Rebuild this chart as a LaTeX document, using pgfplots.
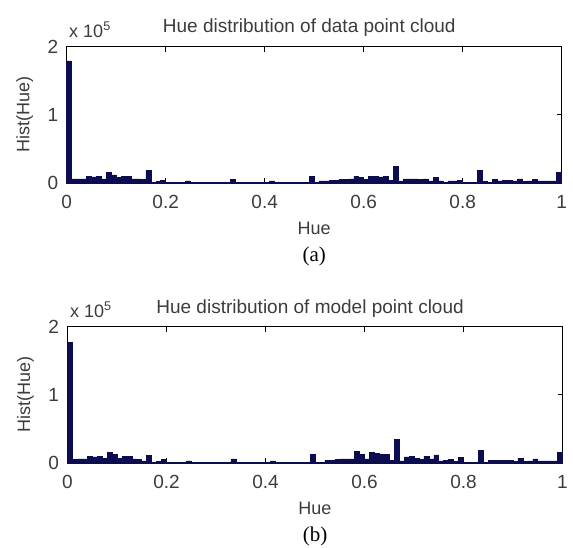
\documentclass[border=0pt]{standalone}
\usepackage{pgfplots}
\pgfplotsset{compat=1.18}
\usepackage{fontspec}
\setmainfont{Liberation Sans}
\newfontfamily\serifx{Liberation Serif}
\definecolor{barc}{RGB}{12,12,80}
\definecolor{txt}{RGB}{60,60,60}

\pgfplotstableread{
x y
0.00 1.79
0.01 0.06
0.02 0.06
0.03 0.06
0.04 0.10
0.05 0.09
0.06 0.10
0.07 0.06
0.08 0.15
0.09 0.12
0.10 0.08
0.11 0.10
0.12 0.10
0.13 0.06
0.14 0.06
0.15 0.05
0.16 0.19
0.17 0.01
0.18 0.02
0.19 0.04
0.20 0.01
0.21 0.01
0.22 0.01
0.23 0.01
0.24 0.03
0.25 0.01
0.26 0.01
0.27 0.01
0.28 0.01
0.29 0.01
0.30 0.01
0.31 0.01
0.32 0.01
0.33 0.05
0.34 0.01
0.35 0.01
0.36 0.01
0.37 0.01
0.38 0.01
0.39 0.01
0.40 0.01
0.41 0.03
0.42 0.01
0.43 0.01
0.44 0.01
0.45 0.01
0.46 0.01
0.47 0.01
0.48 0.01
0.49 0.10
0.50 0.01
0.51 0.03
0.52 0.03
0.53 0.04
0.54 0.04
0.55 0.05
0.56 0.05
0.57 0.06
0.58 0.10
0.59 0.08
0.60 0.05
0.61 0.10
0.62 0.10
0.63 0.09
0.64 0.10
0.65 0.04
0.66 0.24
0.67 0.03
0.68 0.06
0.69 0.06
0.70 0.06
0.71 0.05
0.72 0.06
0.73 0.03
0.74 0.08
0.75 0.03
0.76 0.01
0.77 0.03
0.78 0.03
0.79 0.04
0.80 0.01
0.81 0.01
0.82 0.01
0.83 0.18
0.84 0.02
0.85 0.01
0.86 0.05
0.87 0.03
0.88 0.04
0.89 0.04
0.90 0.03
0.91 0.06
0.92 0.02
0.93 0.03
0.94 0.05
0.95 0.03
0.96 0.03
0.97 0.03
0.98 0.03
0.99 0.16
1.00 0.16
}\dataA

\pgfplotstableread{
x y
0.00 1.77
0.01 0.05
0.02 0.06
0.03 0.06
0.04 0.10
0.05 0.09
0.06 0.10
0.07 0.07
0.08 0.15
0.09 0.13
0.10 0.07
0.11 0.10
0.12 0.10
0.13 0.06
0.14 0.05
0.15 0.03
0.16 0.11
0.17 0.01
0.18 0.02
0.19 0.05
0.20 0.01
0.21 0.01
0.22 0.01
0.23 0.01
0.24 0.03
0.25 0.01
0.26 0.01
0.27 0.01
0.28 0.01
0.29 0.01
0.30 0.01
0.31 0.01
0.32 0.01
0.33 0.06
0.34 0.01
0.35 0.01
0.36 0.01
0.37 0.01
0.38 0.01
0.39 0.01
0.40 0.01
0.41 0.03
0.42 0.01
0.43 0.01
0.44 0.01
0.45 0.01
0.46 0.01
0.47 0.01
0.48 0.01
0.49 0.13
0.50 0.01
0.51 0.01
0.52 0.04
0.53 0.04
0.54 0.05
0.55 0.06
0.56 0.06
0.57 0.06
0.58 0.17
0.59 0.13
0.60 0.06
0.61 0.15
0.62 0.14
0.63 0.13
0.64 0.13
0.65 0.04
0.66 0.35
0.67 0.03
0.68 0.09
0.69 0.10
0.70 0.07
0.71 0.05
0.72 0.10
0.73 0.06
0.74 0.12
0.75 0.03
0.76 0.04
0.77 0.05
0.78 0.02
0.79 0.08
0.80 0.01
0.81 0.01
0.82 0.01
0.83 0.18
0.84 0.01
0.85 0.04
0.86 0.04
0.87 0.04
0.88 0.04
0.89 0.04
0.90 0.02
0.91 0.07
0.92 0.02
0.93 0.03
0.94 0.06
0.95 0.03
0.96 0.03
0.97 0.03
0.98 0.03
0.99 0.16
1.00 0.16
}\dataB

\pgfplotsset{
  hueaxis/.style={
    scale only axis, width=495pt, height=136.5pt,
    xmin=0, xmax=1, ymin=0, ymax=2,
    xtick={0,0.2,0.4,0.6,0.8,1}, ytick={0,1,2},
    xticklabels={0,0.2,0.4,0.6,0.8,1},
    tick align=inside, major tick length=5pt,
    tick style={black, line width=0.6pt},
    axis line style={black, line width=0.9pt},
    /pgf/number format/assume math mode=true,
    tick label style={font=\fontsize{19}{21}\selectfont, text=txt},
    xticklabel style={anchor=base, yshift=-25pt},
    yticklabel style={anchor=east, xshift=-5pt},
    clip=false,
  }
}
\newcommand{\decor}[2]{%
\node[font=\fontsize{19}{21}\selectfont, text=txt, anchor=base] at (rel axis cs:0.49,1) [yshift=13.5pt] {#1};
\node[font=\fontsize{18}{20}\selectfont, text=txt, anchor=base west] at (rel axis cs:0,1) [xshift=-1pt, yshift=9.5pt] {x 10\textsuperscript{5}};
\node[font=\fontsize{18}{20}\selectfont, text=txt, anchor=base] at (rel axis cs:0.5,0) [yshift=-51pt] {Hue};
\node[font=\fontsize{18}{20}\selectfont, text=txt, rotate=90] at ([xshift=-42pt]rel axis cs:0,0.5) {Hist(Hue)};
\node[font=\serifx\fontsize{21}{23}\selectfont, text=black, anchor=base] at (rel axis cs:0.5,0) [yshift=-78.5pt] {#2};
}

\begin{document}
\begin{tikzpicture}
\useasboundingbox (0pt,0pt) rectangle (573pt,547pt);
% top axis
\begin{axis}[hueaxis, at={(66.7pt,364pt)}, anchor=south west]
\addplot[ybar interval, fill=barc, draw=barc, line width=0.6pt] table[x=x,y=y] {\dataA};
\decor{Hue distribution of data point cloud}{(a)}
\end{axis}
% bottom axis
\begin{axis}[hueaxis, at={(67.5pt,84pt)}, anchor=south west]
\addplot[ybar interval, fill=barc, draw=barc, line width=0.6pt] table[x=x,y=y] {\dataB};
\decor{Hue distribution of model point cloud}{(b)}
\end{axis}
\end{tikzpicture}
\end{document}
